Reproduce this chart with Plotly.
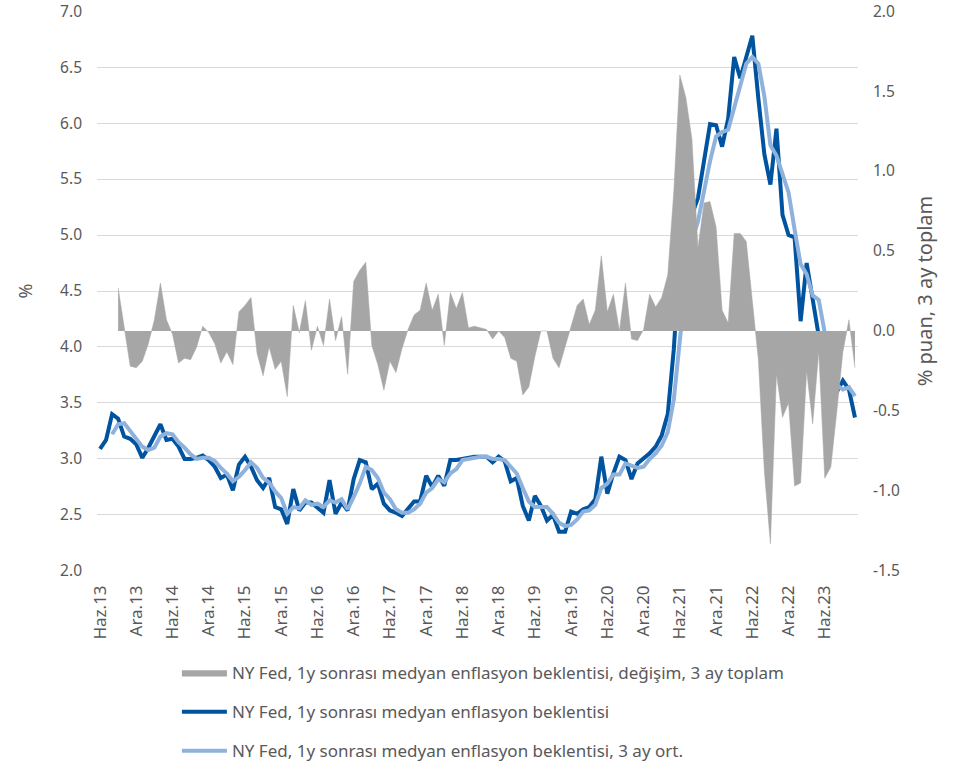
import plotly.graph_objects as go

# Monthly observations Jun 2013 .. Nov 2023 (index 0..125)
expect_1y = [
    3.09, 3.17, 3.40, 3.36, 3.20, 3.18, 3.13, 3.01, 3.10, 3.20, 3.31, 3.17,
    3.18, 3.11, 3.00, 3.00, 3.01, 3.03, 2.99, 2.93, 2.83, 2.86, 2.72, 2.95,
    3.02, 2.93, 2.81, 2.74, 2.83, 2.57, 2.55, 2.42, 2.73, 2.54, 2.61, 2.61,
    2.57, 2.52, 2.81, 2.51, 2.61, 2.54, 2.82, 2.99, 2.97, 2.73, 2.78, 2.60,
    2.54, 2.52, 2.49, 2.55, 2.62, 2.62, 2.85, 2.75, 2.85, 2.76, 2.99, 2.99,
    3.00, 3.01, 3.02, 3.02, 3.02, 2.97, 3.02, 2.98, 2.80, 2.83, 2.58, 2.45,
    2.67, 2.58, 2.45, 2.50, 2.35, 2.35, 2.53, 2.51, 2.55, 2.57, 2.64, 3.02,
    2.69, 2.87, 3.02, 2.99, 2.82, 2.96, 3.00, 3.05, 3.11, 3.21, 3.40, 3.98,
    4.81, 4.86, 5.18, 5.33, 5.66, 5.99, 5.98, 5.79, 6.04, 6.59, 6.40, 6.60,
    6.78, 6.22, 5.72, 5.45, 5.95, 5.18, 5.00, 4.98, 4.23, 4.75, 4.40, 4.10,
    3.83, 3.55, 3.60, 3.70, 3.62, 3.37,
]

# 3-month average (first two months blank)
expect_3m_avg = [
    None, None, 3.22, 3.31, 3.32, 3.25, 3.17, 3.11, 3.08, 3.10, 3.20, 3.23,
    3.22, 3.15, 3.10, 3.04, 3.00, 3.01, 3.01, 2.98, 2.92, 2.87, 2.80, 2.84,
    2.90, 2.97, 2.92, 2.83, 2.79, 2.71, 2.65, 2.51, 2.57, 2.56, 2.63, 2.59,
    2.60, 2.57, 2.63, 2.61, 2.64, 2.55, 2.66, 2.78, 2.93, 2.90, 2.83, 2.70,
    2.64, 2.55, 2.52, 2.52, 2.55, 2.60, 2.70, 2.74, 2.82, 2.79, 2.87, 2.91,
    2.99, 3.00, 3.01, 3.02, 3.02, 3.00, 3.00, 2.99, 2.93, 2.87, 2.74, 2.62,
    2.57, 2.57, 2.57, 2.51, 2.43, 2.40, 2.41, 2.46, 2.53, 2.54, 2.59, 2.74,
    2.78, 2.86, 2.86, 2.96, 2.94, 2.92, 2.93, 3.00, 3.05, 3.12, 3.24, 3.53,
    4.06, 4.55, 4.95, 5.12, 5.39, 5.66, 5.88, 5.92, 5.94, 6.14, 6.34, 6.53,
    6.59, 6.53, 6.24, 5.80, 5.71, 5.53, 5.38, 5.05, 4.74, 4.65, 4.46, 4.42,
    4.11, 3.83, 3.66, 3.62, 3.64, 3.56,
]

# change, 3-month sum (first three months blank)
change_3m = [
    None, None, None, 0.27, 0.03, -0.22, -0.23, -0.19, -0.08, 0.07, 0.30, 0.07,
    -0.02, -0.20, -0.17, -0.18, -0.10, 0.03, -0.01, -0.08, -0.20, -0.13, -0.21, 0.12,
    0.16, 0.21, -0.14, -0.28, -0.10, -0.24, -0.19, -0.41, 0.16, -0.01, 0.19, -0.12,
    0.03, -0.09, 0.20, -0.06, 0.09, -0.27, 0.31, 0.38, 0.43, -0.09, -0.21, -0.37,
    -0.19, -0.26, -0.11, 0.01, 0.10, 0.13, 0.30, 0.13, 0.23, -0.09, 0.24, 0.14,
    0.24, 0.02, 0.03, 0.02, 0.01, -0.05, 0.00, -0.04, -0.17, -0.19, -0.40, -0.35,
    -0.16, 0.00, 0.00, -0.17, -0.23, -0.10, 0.03, 0.16, 0.20, 0.04, 0.13, 0.47,
    0.12, 0.23, 0.00, 0.30, -0.05, -0.06, 0.01, 0.23, 0.15, 0.21, 0.35, 0.87,
    1.60, 1.46, 1.20, 0.52, 0.80, 0.81, 0.65, 0.13, 0.05, 0.61, 0.61, 0.56,
    0.19, -0.18, -0.88, -1.33, -0.27, -0.54, -0.45, -0.97, -0.95, -0.25, -0.58, -0.13,
    -0.92, -0.85, -0.50, -0.13, 0.07, -0.23,
]

tick_positions = list(range(0, 126, 6))
tick_labels = [
    "Haz.13", "Ara.13", "Haz.14", "Ara.14", "Haz.15", "Ara.15", "Haz.16",
    "Ara.16", "Haz.17", "Ara.17", "Haz.18", "Ara.18", "Haz.19", "Ara.19",
    "Haz.20", "Ara.20", "Haz.21", "Ara.21", "Haz.22", "Ara.22", "Haz.23",
]

left_ticks = [2.0, 2.5, 3.0, 3.5, 4.0, 4.5, 5.0, 5.5, 6.0, 6.5, 7.0]
right_ticks = [-1.5, -1.0, -0.5, 0.0, 0.5, 1.0, 1.5, 2.0]
right_tick_labels = ["-1.5", "-1.0", "-0.5", "0.0", "0.5", "1.0", "1.5", "2.0"]

names = [
    "NY Fed, 1y sonrası medyan enflasyon beklentisi, değişim, 3 ay toplam",
    "NY Fed, 1y sonrası medyan enflasyon beklentisi",
    "NY Fed, 1y sonrası medyan enflasyon beklentisi, 3 ay ort.",
]

x = list(range(len(expect_1y)))
FONT = "Noto Sans"
TXT = "#595959"

fig = go.Figure()
fig.add_trace(go.Scatter(
    x=x, y=change_3m, name=names[0], yaxis="y2", mode="lines",
    fill="tozeroy", fillcolor="#A6A6A6", line=dict(color="#A6A6A6", width=0.5),
    legendgroup="a", hoverinfo="skip",
))
fig.add_trace(go.Scatter(
    x=x, y=expect_1y, name=names[1], mode="lines",
    line=dict(color="#00539F", width=4), legendgroup="b",
))
fig.add_trace(go.Scatter(
    x=x, y=expect_3m_avg, name=names[2], mode="lines",
    line=dict(color="#8FB2DC", width=4), legendgroup="c",
))

fig.update_layout(
    width=969, height=764,
    margin=dict(l=97, r=111, t=11, b=193, autoexpand=False),
    paper_bgcolor="white", plot_bgcolor="white",
    font=dict(family=FONT, color=TXT, size=15),
    showlegend=True,
    legend=dict(
        x=0.105, y=-0.15, xanchor="left", yanchor="top",
        orientation="v", traceorder="grouped", tracegroupgap=14,
        font=dict(size=17, color=TXT, family=FONT),
        itemwidth=45,
    ),
    xaxis=dict(
        range=[-0.5, 125.5], tickmode="array", tickvals=tick_positions,
        ticktext=tick_labels, tickangle=-90, showgrid=False, zeroline=False,
        showline=False, ticks="", ticklabelstandoff=10, automargin=False,
        tickfont=dict(size=17, color=TXT),
    ),
    yaxis=dict(
        range=[1.999, 7.001], tickmode="array", tickvals=left_ticks,
        tickformat=".1f", showgrid=True,
        gridcolor="#D9D9D9", gridwidth=1, zeroline=False, showline=False,
        ticks="", ticklabelstandoff=14, tickfont=dict(size=15.5, color=TXT),
        automargin=False, ticklabeloverflow="allow",
        title=dict(text="%", font=dict(size=18, color=TXT), standoff=22),
    ),
    yaxis2=dict(
        range=[-1.5007, 2.0007], tickmode="array", tickvals=right_ticks,
        ticktext=right_tick_labels, overlaying="y",
        side="right", showgrid=False, zeroline=False, showline=False,
        ticks="", ticklabelstandoff=14, tickfont=dict(size=15.5, color=TXT),
        automargin=False, ticklabeloverflow="allow",
        title=dict(text="% puan, 3 ay toplam", font=dict(size=20, color=TXT), standoff=18),
    ),
)

fig.write_html(
    "out.html",
    config={"displayModeBar": False},
    post_script="document.body.style.margin='0';",
)
